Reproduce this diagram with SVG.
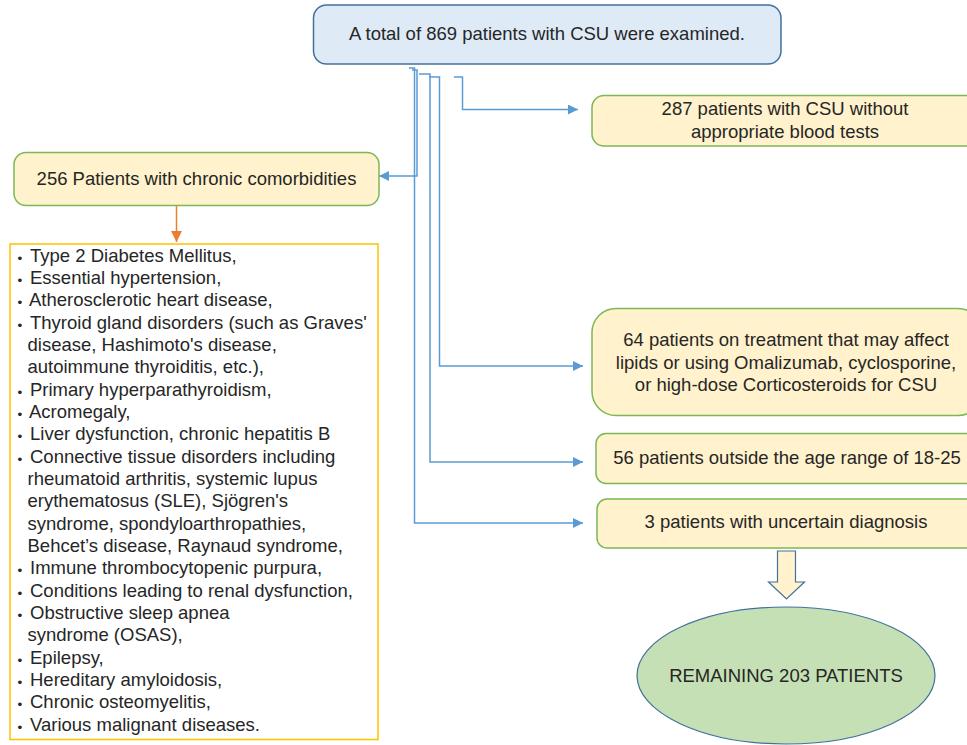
<svg xmlns="http://www.w3.org/2000/svg" width="967" height="745" viewBox="0 0 967 745">
<style>
text{font-family:"Liberation Sans",Arial,sans-serif;font-size:18.5px;fill:#262626}
.c{text-anchor:middle}
.yb{fill:#fff2cc;stroke:#7cb855;stroke-width:1.5}
.conn{fill:none;stroke:#5b9bd5;stroke-width:1.5}
.b{font-size:13.5px}
</style>
<defs>
<marker id="ab" viewBox="0 0 10 10" refX="10" refY="5" markerWidth="10" markerHeight="10" markerUnits="userSpaceOnUse" orient="auto">
<path d="M0,0 L10,5 L0,10 Z" fill="#5b9bd5"/>
</marker>
<marker id="ao" viewBox="0 0 10 10" refX="10" refY="5" markerWidth="11" markerHeight="11" markerUnits="userSpaceOnUse" orient="auto">
<path d="M0,0 L10,5 L0,10 Z" fill="#ed7d31"/>
</marker>
</defs>

<g id="connectors">
<path class="conn" d="M409,68 H414.5 V523 H583" marker-end="url(#ab)"/>
<path class="conn" d="M412,70 H417 V176 H379" marker-end="url(#ab)"/>
<path class="conn" d="M419,74 H430 V462 H583" marker-end="url(#ab)"/>
<path class="conn" d="M429,77 H439.5 V366 H583" marker-end="url(#ab)"/>
<path class="conn" d="M454,77 H462.5 V109.5 H578" marker-end="url(#ab)"/>
<path d="M176.5,206 V242" fill="none" stroke="#ed7d31" stroke-width="1.5" marker-end="url(#ao)"/>
</g>

<g id="top">
<rect x="313.5" y="5" width="467.5" height="59" rx="13" fill="#deebf7" stroke="#41719c" stroke-width="1.5"/>
<text class="c" x="547" y="39.5">A total of 869 patients with CSU were examined.</text>
</g>

<g id="n287">
<rect class="yb" x="592" y="95.5" width="386" height="50.5" rx="12"/>
<text class="c" x="785" y="115">287 patients with CSU without</text>
<text class="c" x="785" y="137.5">appropriate blood tests</text>
</g>

<g id="n256">
<rect class="yb" x="14" y="152.5" width="365" height="53" rx="12"/>
<text class="c" x="196.5" y="184.5">256 Patients with chronic comorbidities</text>
</g>

<g id="list">
<rect x="10" y="244" width="368" height="495.5" fill="#ffffff" stroke="#ffc000" stroke-width="1.5"/>
<g>
<text class="b" x="17.5" y="262.5">•</text><text x="30" y="261.7">Type 2 Diabetes Mellitus,</text>
<text class="b" x="17.5" y="284.8">•</text><text x="30" y="284">Essential hypertension,</text>
<text class="b" x="17.5" y="307.2">•</text><text x="29" y="306.4">Atherosclerotic heart disease,</text>
<text class="b" x="17.5" y="329.5">•</text><text x="30" y="328.7">Thyroid gland disorders (such as Graves'</text>
<text x="27.5" y="351">disease, Hashimoto's disease,</text>
<text x="27.5" y="373.4">autoimmune thyroiditis, etc.),</text>
<text class="b" x="17.5" y="396.5">•</text><text x="30" y="395.7">Primary hyperparathyroidism,</text>
<text class="b" x="17.5" y="418.9">•</text><text x="29" y="418.1">Acromegaly,</text>
<text class="b" x="17.5" y="441.2">•</text><text x="30" y="440.4">Liver dysfunction, chronic hepatitis B</text>
<text class="b" x="17.5" y="463.5">•</text><text x="30" y="462.7">Connective tissue disorders including</text>
<text x="27.5" y="485">rheumatoid arthritis, systemic lupus</text>
<text x="27.5" y="507.4">erythematosus (SLE), Sjögren's</text>
<text x="27.5" y="529.7">syndrome, spondyloarthropathies,</text>
<text x="27.5" y="552">Behcet’s disease, Raynaud syndrome,</text>
<text class="b" x="17.5" y="575.2">•</text><text x="30" y="574.4">Immune thrombocytopenic purpura,</text>
<text class="b" x="17.5" y="597.5">•</text><text x="30" y="596.7">Conditions leading to renal dysfunction,</text>
<text class="b" x="17.5" y="619.9">•</text><text x="30" y="619.1">Obstructive sleep apnea</text>
<text x="27.5" y="641.4">syndrome (OSAS),</text>
<text class="b" x="17.5" y="664.5">•</text><text x="30" y="663.7">Epilepsy,</text>
<text class="b" x="17.5" y="686.9">•</text><text x="30" y="686.1">Hereditary amyloidosis,</text>
<text class="b" x="17.5" y="709.2">•</text><text x="30" y="708.4">Chronic osteomyelitis,</text>
<text class="b" x="17.5" y="731.5">•</text><text x="30" y="730.7">Various malignant diseases.</text>
</g>
</g>

<g id="n64">
<rect class="yb" x="592" y="308.5" width="390" height="107" rx="24"/>
<text class="c" x="786" y="346">64 patients on treatment that may affect</text>
<text class="c" x="786" y="368.5">lipids or using Omalizumab, cyclosporine,</text>
<text class="c" x="786" y="391">or high-dose Corticosteroids for CSU</text>
</g>

<g id="n56">
<rect class="yb" x="596" y="433.5" width="384" height="50" rx="10"/>
<text class="c" x="787" y="463.5">56 patients outside the age range of 18-25</text>
</g>

<g id="n3">
<rect class="yb" x="597" y="499" width="382" height="49" rx="10"/>
<text class="c" x="786" y="528">3 patients with uncertain diagnosis</text>
</g>

<g id="downarrow">
<path d="M777.5,551 H795.5 V582 H804.5 L786.5,599 L768.5,582 H777.5 Z" fill="#fff2cc" stroke="#41719c" stroke-width="1.2"/>
</g>

<g id="remaining">
<ellipse cx="786" cy="675.5" rx="149" ry="68.5" fill="#c5e0b4" stroke="#41719c" stroke-width="1.2"/>
<text class="c" x="786" y="681.5">REMAINING 203 PATIENTS</text>
</g>
</svg>
